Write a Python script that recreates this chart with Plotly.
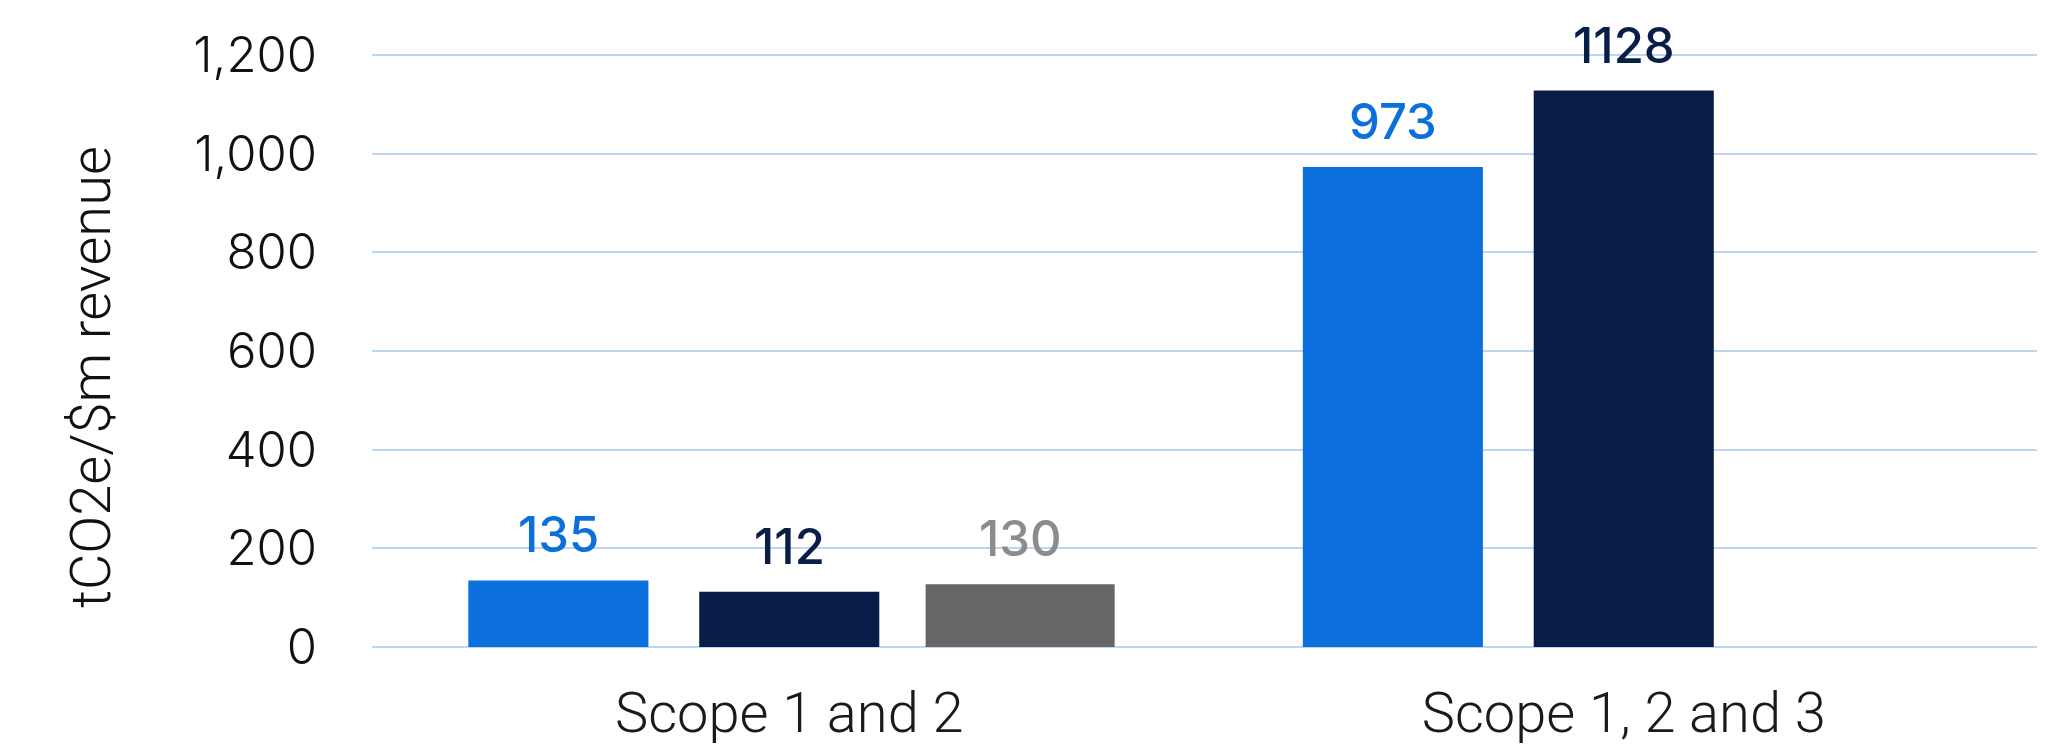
import plotly.graph_objects as go

categories = ["Scope 1 and 2", "Scope 1, 2 and 3"]
series_a = [135, 973]          # blue
series_b = [112, 1128]         # navy
series_c = [127]               # grey (only first category)
labels_a = ["135", "973"]
labels_b = ["112", "1128"]
labels_c = ["130"]
y_ticks = [0, 200, 400, 600, 800, 1000, 1200]
y_tick_text = ["0", "200", "400", "600", "800", "1,000", "1,200"]

BLUE = "#0B70DC"
NAVY = "#081E48"
GREY = "#666666"
GREY_TXT = "#8C8C8C"

SLOT_PX = 834.5 * (1 - 0.17) / 3  # pixel width of one bar slot in a group

fig = go.Figure()
annotations = []
specs = [
    (series_a, labels_a, BLUE, BLUE, categories, -1, None),
    (series_b, labels_b, NAVY, NAVY, categories, 0, None),
    (series_c, labels_c, GREY, GREY_TXT, categories[:1], 1, 0.2265),
]
for vals, labs, col, tcol, cats, slot, w in specs:
    fig.add_trace(go.Bar(
        x=cats, y=vals, width=w,
        marker=dict(color=col, line=dict(width=0)),
        showlegend=False, hoverinfo="x+y",
    ))
    for c, v, t in zip(cats, vals, labs):
        annotations.append(dict(
            x=c, y=v, xref="x", yref="y", text=t, showarrow=False,
            xanchor="center", yanchor="bottom",
            xshift=slot * SLOT_PX, yshift=14,
            font=dict(family="Inter", size=49, color=tcol, weight=500),
        ))

annotations.append(dict(
    text="tCO2e/$m revenue", textangle=-90,
    xref="paper", yref="paper",
    x=(91 - 372) / 1669, y=(647 - 378) / 592,
    xanchor="center", yanchor="middle", showarrow=False,
    font=dict(family="Roboto", size=56, color="#111111", weight=300),
))

fig.update_layout(
    width=2037, height=743,
    margin=dict(l=364, r=4, t=45, b=104),
    paper_bgcolor="white", plot_bgcolor="white",
    barmode="group", bargap=0.17, bargroupgap=0.22,
    xaxis=dict(
        categoryorder="array", categoryarray=categories,
        showgrid=False, showline=False, ticks="", automargin=False,
        tickfont=dict(family="Roboto", size=56, color="#1a1a1a", weight=300),
        ticklabelstandoff=28,
    ),
    yaxis=dict(
        range=[0, 1204], tickvals=y_ticks, ticktext=y_tick_text,
        showgrid=True, gridcolor="#BCD6F4", gridwidth=2,
        zeroline=True, zerolinecolor="#BCD6F4", zerolinewidth=2,
        showline=False, ticks="", automargin=False,
        tickfont=dict(family="Inter", size=49, color="#111111", weight=300),
        ticklabelstandoff=54,
    ),
    annotations=annotations,
)

fig.write_html("out.html")
